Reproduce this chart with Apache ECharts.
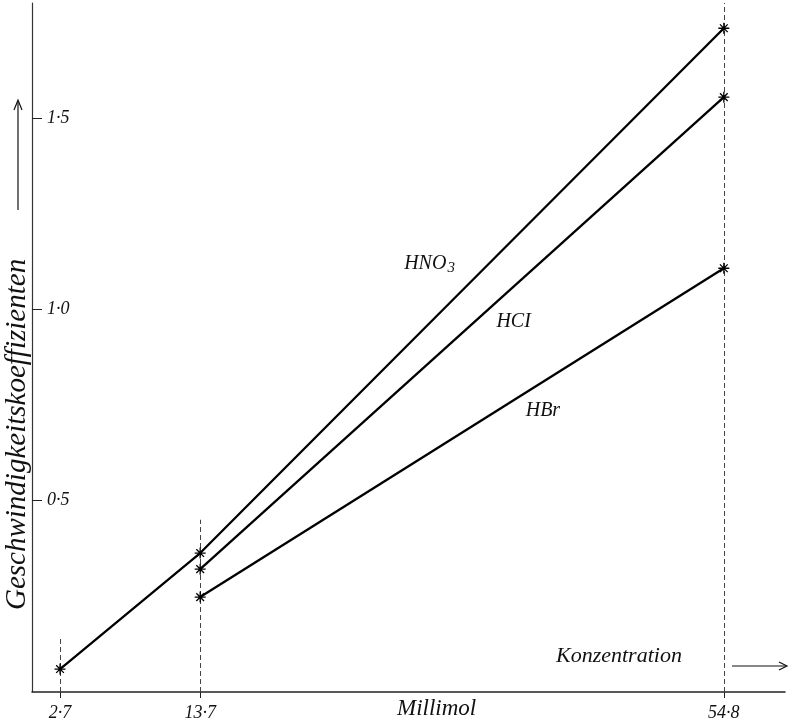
<!DOCTYPE html>
<html>
<head>
<meta charset="utf-8">
<script src="https://cdn.jsdelivr.net/npm/echarts@6/dist/echarts.min.js"></script>
<style>html,body{margin:0;padding:0;background:#fff}#c{width:791px;height:724px}</style>
</head>
<body>
<div id="c"></div>
<script>
// ---- data ----
const xTickValues = [2.7, 13.7, 54.8];
const xTickLabels = ['2·7', '13·7', '54·8'];
const yTickValues = [0.5, 1.0, 1.5];
const yTickLabels = ['0·5', '1·0', '1·5'];

const hno3X = [2.7, 13.7, 54.8];
const hno3Y = [0.06, 0.363, 1.734];
const hclX = [13.7, 54.8];
const hclY = [0.321, 1.554];
const hbrX = [13.7, 54.8];
const hbrY = [0.248, 1.107];

const seriesNames = ['HNO3', 'HCl', 'HBr'];
const labelAnchors = [[31.7, 1.12], [38.3, 0.966], [40.6, 0.736]];

// ---- chart ----
const FONT = '"Liberation Serif", "DejaVu Serif", serif';
const star = 'path://M0,5L10,5M5,0L5,10M1.5,1.5L8.5,8.5M8.5,1.5L1.5,8.5';

function pairs(xs, ys) { return xs.map((x, i) => [x, ys[i]]); }

function mkSeries(name, xs, ys, anchor, labelRich) {
  return {
    name: name,
    type: 'line',
    data: pairs(xs, ys),
    symbol: star,
    symbolSize: 11,
    showAllSymbol: true,
    lineStyle: { color: '#000', width: 2.3 },
    itemStyle: { color: 'rgba(0,0,0,0)', borderColor: '#000', borderWidth: 1.3 },
    z: 5,
    markPoint: {
      symbol: 'circle', symbolSize: 0,
      data: [{ coord: anchor }],
      label: {
        show: true, position: 'inside',
        formatter: labelRich.text,
        rich: labelRich.rich,
        fontFamily: FONT, fontStyle: 'italic', fontSize: 20, color: '#111'
      }
    }
  };
}

const chart = echarts.init(document.getElementById('c'), null, { renderer: 'canvas' });

const option = {
  backgroundColor: '#fff',
  animation: false,
  grid: { left: 32, right: 6, top: 3, bottom: 32, containLabel: false },
  xAxis: {
    type: 'value', min: 0.5, max: 59.6,
    axisLine: { show: true, lineStyle: { color: '#222', width: 1.5 } },
    axisTick: { show: true, customValues: xTickValues, length: 6, lineStyle: { color: '#222' } },
    axisLabel: {
      show: true, customValues: xTickValues, margin: 12,
      formatter: v => xTickLabels[xTickValues.indexOf(v)] || '',
      fontFamily: FONT, fontStyle: 'italic', fontSize: 18, color: '#111'
    },
    splitLine: { show: false }
  },
  yAxis: {
    type: 'value', min: 0, max: 1.8,
    axisLine: { show: true, lineStyle: { color: '#333', width: 1.2 } },
    axisTick: { show: true, customValues: yTickValues, inside: true, length: 10, lineStyle: { color: '#222' } },
    axisLabel: {
      show: true, inside: true, customValues: yTickValues, margin: 15,
      formatter: v => { const i = yTickValues.findIndex(t => Math.abs(t - v) < 1e-6); return i >= 0 ? yTickLabels[i] : ''; },
      fontFamily: FONT, fontStyle: 'italic', fontSize: 18, color: '#111'
    },
    splitLine: { show: false }
  },
  series: [
    Object.assign(mkSeries(seriesNames[0], hno3X, hno3Y, labelAnchors[0],
      { text: '{a|HNO}{s|3}', rich: { a: { fontFamily: FONT, fontStyle: 'italic', fontSize: 20, color: '#111' }, s: { fontFamily: FONT, fontStyle: 'italic', fontSize: 15, color: '#111', padding: [10, 0, 0, 1] } } }), {
      markLine: {
        silent: true, symbol: 'none',
        lineStyle: { color: '#444', type: [5, 3], width: 1 },
        label: { show: false },
        data: [
          [{ coord: [xTickValues[0], 0] }, { coord: [xTickValues[0], 0.14] }],
          [{ coord: [xTickValues[1], 0] }, { coord: [xTickValues[1], 0.45] }],
          [{ coord: [xTickValues[2], 0] }, { coord: [xTickValues[2], 1.8] }]
        ]
      }
    }),
    mkSeries(seriesNames[1], hclX, hclY, labelAnchors[1],
      { text: '{a|HCI}', rich: { a: { fontFamily: FONT, fontStyle: 'italic', fontSize: 20, color: '#111' } } }),
    mkSeries(seriesNames[2], hbrX, hbrY, labelAnchors[2],
      { text: '{a|HBr}', rich: { a: { fontFamily: FONT, fontStyle: 'italic', fontSize: 20, color: '#111' } } })
  ],
  graphic: [
    { type: 'text', left: 397, top: 697, style: { text: 'Millimol', font: 'italic 23px ' + FONT, fill: '#111' } },
    { type: 'text', left: 556, top: 645, style: { text: 'Konzentration', font: 'italic 22px ' + FONT, fill: '#111' } },
    { type: 'line', shape: { x1: 732, y1: 666, x2: 786, y2: 666 }, style: { stroke: '#111', lineWidth: 1.2 } },
    { type: 'polyline', shape: { points: [[779, 662], [787, 666], [779, 670]] }, style: { stroke: '#111', lineWidth: 1.2, fill: null } },
    { type: 'text', x: 3, y: 610, rotation: Math.PI / 2,
      style: { text: 'Geschwindigkeitskoeffizienten', font: 'italic 29px ' + FONT, fill: '#111', textVerticalAlign: 'top' } },
    { type: 'line', shape: { x1: 18, y1: 210, x2: 18, y2: 101 }, style: { stroke: '#111', lineWidth: 1.2 } },
    { type: 'polyline', shape: { points: [[14, 110], [18, 100], [22, 110]] }, style: { stroke: '#111', lineWidth: 1.2, fill: null } }
  ]
};
chart.setOption(option);
</script>
</body>
</html>
